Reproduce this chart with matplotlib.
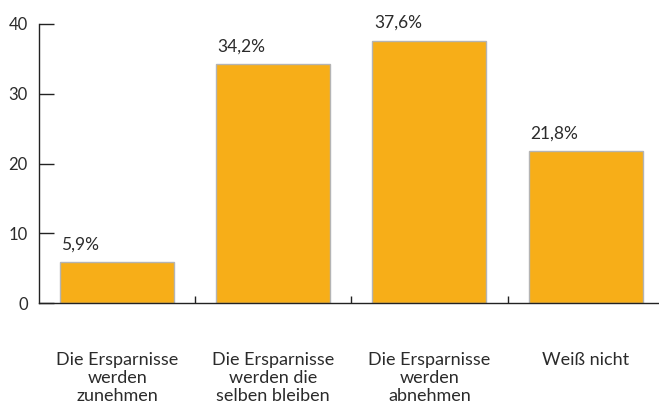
import matplotlib
matplotlib.use('Agg')
import matplotlib.pyplot as plt

# Daten
kategorien = ['Die Ersparnisse\nwerden\nzunehmen',
              'Die Ersparnisse\nwerden die\nselben bleiben',
              'Die Ersparnisse\nwerden\nabnehmen',
              'Weiß nicht']
werte = [5.9, 34.2, 37.6, 21.8]
y_ticks = [0, 10, 20, 30, 40]

plt.rcParams['font.family'] = ['Lato', 'DejaVu Sans']
textfarbe = '#2b2b2b'

fig = plt.figure(figsize=(6.59, 4.05), dpi=100)
ax = fig.add_axes([39 / 659, 1 - 303 / 405, 1 - 39 / 659, 279 / 405])

x = list(range(len(werte)))
ax.bar(x, werte, width=0.73, color='#f7ae18', edgecolor='#b4b4b4', linewidth=1.0)

# Werte über den Balken, linksbündig an der Balkenkante
for xi, w in zip(x, werte):
    ax.annotate(f'{w:.1f}%'.replace('.', ','), (xi - 0.365, w),
                xytext=(1, 7), textcoords='offset points',
                ha='left', va='bottom', fontsize=12.5, color=textfarbe)

ax.set_xlim(-0.5, 3.47)
ax.set_ylim(0, 40)
ax.set_yticks(y_ticks)
ax.tick_params(axis='y', direction='in', length=11, width=1, pad=8,
               labelsize=12, labelcolor=textfarbe, color='#222222')

# Striche zwischen den Kategorien, Beschriftung darunter
ax.set_xticks([0.5, 1.5, 2.5])
ax.set_xticklabels([])
ax.tick_params(axis='x', which='major', direction='in', length=5, width=1, color='#222222')
ax.set_xticks(x, minor=True)
ax.set_xticklabels(kategorien, minor=True, fontsize=13, color=textfarbe, linespacing=1.16)
ax.tick_params(axis='x', which='minor', length=0, pad=35)

for s in ['top', 'right']:
    ax.spines[s].set_visible(False)
for s in ['left', 'bottom']:
    ax.spines[s].set_color('#222222')
    ax.spines[s].set_linewidth(1)

fig.savefig('out.png', dpi=100)
